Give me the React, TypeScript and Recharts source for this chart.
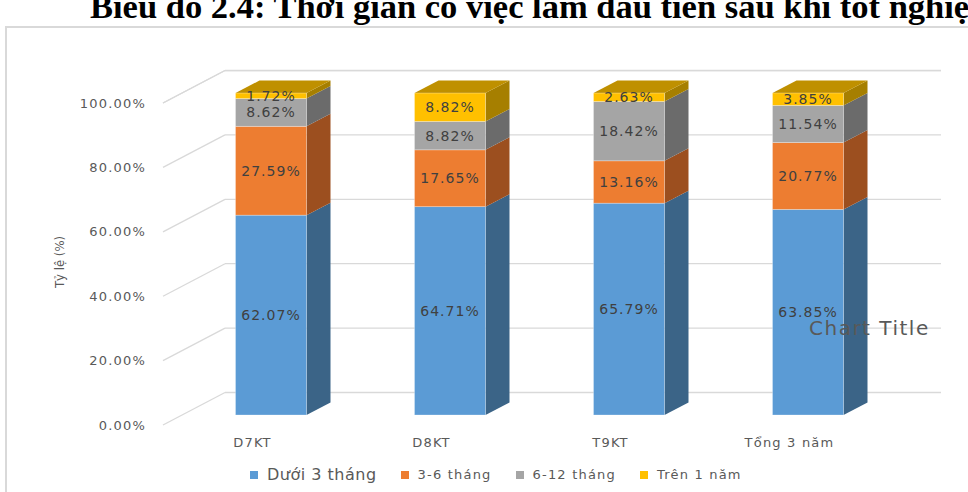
import { BarChart, Bar, XAxis, YAxis, CartesianGrid, LabelList } from 'recharts'

const groups = ['D7KT', 'D8KT', 'T9KT', 'Tổng 3 năm']
const under3m = [62.07, 64.71, 65.79, 63.85]
const m3to6 = [27.59, 17.65, 13.16, 20.77]
const m6to12 = [8.62, 8.82, 18.42, 11.54]
const over1y = [1.72, 8.82, 2.63, 3.85]
const yTicks = [0, 20, 40, 60, 80, 100]

const series = [
  { key: 'under3m', name: 'Dưới 3 tháng', values: under3m, front: '#5B9BD5', side: '#3B6487', top: '#4A80B0' },
  { key: 'm3to6', name: '3-6 tháng', values: m3to6, front: '#ED7D31', side: '#9C4F1F', top: '#C4682A' },
  { key: 'm6to12', name: '6-12 tháng', values: m6to12, front: '#A5A5A5', side: '#6B6B6B', top: '#888888' },
  { key: 'over1y', name: 'Trên 1 năm', values: over1y, front: '#FFC000', side: '#A67F00', top: '#BF9000' },
]

const data = groups.map((group, i) => {
  const row: Record<string, string | number> = { group }
  series.forEach((s) => { row[s.key] = s.values[i] })
  return row
})

// oblique 3D offsets relative to the bar plane
const FRONT = { dx: -18.5, dy: 10 }
const BACK = { dx: 43.5, dy: -22.5 }
const DEPTH = { dx: 24, dy: 12.5 }

const W = 968
const H = 492
const GRID = '#D9D9D9'
const TXT = '#595959'
const FONT = '"DejaVu Sans", Verdana, sans-serif'

const pct = (v: number) => `${v.toFixed(2)}%`

// floor-to-wall gridline: short diagonal from the front edge, then along the back wall
const wallLine = (p: any) => {
  const { x1, x2, y1, index } = p
  return (
    <g key={`wall-${index}`}>
      <line x1={x1 + FRONT.dx} y1={y1 + FRONT.dy} x2={x1 + BACK.dx} y2={y1 + BACK.dy} stroke={GRID} strokeWidth={1.3} />
      <line x1={x1 + BACK.dx} y1={y1 + BACK.dy} x2={x2 + BACK.dx} y2={y1 + BACK.dy} stroke={GRID} strokeWidth={1.3} />
    </g>
  )
}

const PctTick = ({ y, payload }: any) => (
  <text x={146} y={y + FRONT.dy} dy="0.36em" textAnchor="end" fill={TXT} fontSize={13} letterSpacing={1.2} fontFamily={FONT}>
    {pct(payload.value)}
  </text>
)

const GroupTick = ({ x, y, payload }: any) => (
  <text x={x + FRONT.dx} y={y + 24} textAnchor="middle" fill={TXT} fontSize={13} letterSpacing={1.2} fontFamily={FONT}>
    {payload.value}
  </text>
)

const makeBox = (s: typeof series[number], isTop: boolean) => (p: any) => {
  const { x, y, width: w, height: h } = p
  if (!h) return <g />
  return (
    <g>
      <polygon
        points={`${x + w},${y} ${x + w + DEPTH.dx},${y - DEPTH.dy} ${x + w + DEPTH.dx},${y + h - DEPTH.dy} ${x + w},${y + h}`}
        fill={s.side}
      />
      {isTop && (
        <polygon
          points={`${x},${y} ${x + DEPTH.dx},${y - DEPTH.dy} ${x + w + DEPTH.dx},${y - DEPTH.dy} ${x + w},${y}`}
          fill={s.top}
        />
      )}
      <rect x={x} y={y} width={w} height={h} fill={s.front} stroke="rgba(255,255,255,0.35)" strokeWidth={0.8} />
    </g>
  )
}

const renderValue = (props: any) => {
  const vb = props.viewBox ?? props
  const { x, y, width, height } = vb
  const v = Number(props.value)
  return (
    <text x={x + width / 2} y={y + height / 2} dy="0.36em" textAnchor="middle" fill="#404040" fontSize={14} letterSpacing={1} fontFamily={FONT}>
      {pct(v)}
    </text>
  )
}

export default function App() {
  return (
    <div style={{ position: 'relative', width: W, height: H, background: '#fff', overflow: 'hidden' }}>
      <style>{'body{margin:0}'}</style>
      <div style={{ position: 'absolute', left: 5, top: 26, width: 1100, height: 600, border: `2px solid ${GRID}` }} />

      <div style={{ position: 'absolute', left: 0, top: 0 }}>
        <BarChart width={W} height={H} data={data} margin={{ top: 93, right: 70.5, left: 141.5, bottom: 47 }} barSize={71}>
          <CartesianGrid vertical={false} horizontal={wallLine} />
          <XAxis dataKey="group" axisLine={false} tickLine={false} height={30} tick={<GroupTick />} interval={0} />
          <YAxis domain={[0, 100]} ticks={yTicks} axisLine={false} tickLine={false} width={40} tick={<PctTick />} />
          {series.map((s, i) => (
            <Bar
              key={s.key}
              dataKey={s.key}
              name={s.name}
              stackId="a"
              fill={s.front}
              isAnimationActive={false}
              shape={makeBox(s, i === series.length - 1)}
            >
              <LabelList dataKey={s.key} content={renderValue} />
            </Bar>
          ))}
        </BarChart>
      </div>

      <svg width={W} height={H} style={{ position: 'absolute', left: 0, top: 0, pointerEvents: 'none' }}>
        <text x={90} y={18} fontFamily='"Liberation Serif", "Times New Roman", serif' fontWeight="bold" fontSize={34.5} fill="#000">
          Biểu đồ 2.4: Thời gian có việc làm đầu tiên sau khi tốt nghiệp
        </text>
        <text
          transform="translate(64, 262) rotate(-90)"
          textAnchor="middle"
          fontFamily='"DejaVu Sans Condensed", "Liberation Sans", sans-serif'
          fontSize={13}
          fill={TXT}
        >
          Tỷ lệ (%)
        </text>
        <text x={809} y={335} fontFamily={FONT} fontSize={20} letterSpacing={1.5} fill={TXT}>
          Chart Title
        </text>
      </svg>

      <div
        style={{
          position: 'absolute', left: 250, top: 465, display: 'flex', alignItems: 'center', gap: 24,
          fontFamily: FONT, color: TXT, whiteSpace: 'nowrap',
        }}
      >
        {series.map((s, i) => (
          <div key={s.key} style={{ display: 'flex', alignItems: 'center', gap: 9 }}>
            <span style={{ width: 8, height: 8, background: s.front, display: 'inline-block' }} />
            <span style={{ fontSize: i === 0 ? 16 : 13, letterSpacing: i === 0 ? 0.5 : 1.2 }}>{s.name}</span>
          </div>
        ))}
      </div>
    </div>
  )
}
